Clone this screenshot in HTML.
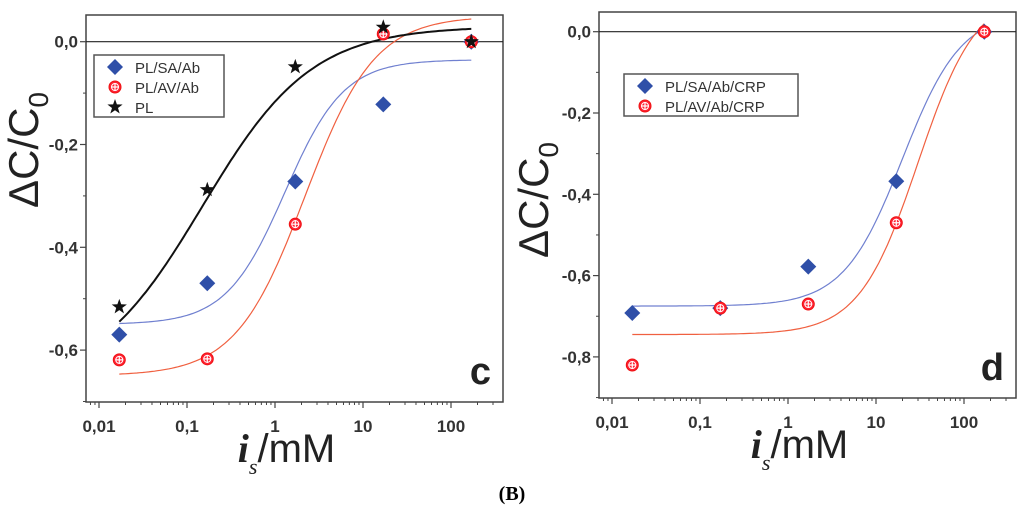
<!DOCTYPE html>
<html><head><meta charset="utf-8"><style>
body{margin:0;background:#fff;width:1024px;height:517px;overflow:hidden}
svg text{font-family:"Liberation Sans",Arial,sans-serif}
</style></head><body>
<svg id="s" width="1024" height="517" viewBox="0 0 1024 517" xmlns="http://www.w3.org/2000/svg">
<text x="512" y="500" text-anchor="middle" font-family="Liberation Serif" font-weight="bold" font-size="20" style="font-family:'Liberation Serif',serif">(B)</text>
</svg>
<script>
const xTicks=[0.01,0.1,1,10,100];
const xTickLabels=["0,01","0,1","1","10","100"];
const concC=[0.017,0.17,1.7,17,170];
const cSA=[-0.57,-0.47,-0.272,-0.122,0.0];
const cAV=[-0.619,-0.617,-0.355,0.015,0.0];
const cPL=[-0.516,-0.288,-0.049,0.028,0.0];
const cTicks=[0,-0.2,-0.4,-0.6];
const cTickLabels=["0,0","-0,2","-0,4","-0,6"];
const fitC_SA=[-0.55,-0.035,1.3,1.3];
const fitC_AV=[-0.65,0.05,2.2,1.1];
const fitC_PL=[-0.67,0.03,0.15,0.7];
const concD=[0.017,0.17,1.7,17,170];
const dSA=[-0.692,-0.68,-0.578,-0.368,0.0];
const dAV=[-0.82,-0.68,-0.67,-0.47,0.0];
const dTicks=[0,-0.2,-0.4,-0.6,-0.8];
const dTickLabels=["0,0","-0,2","-0,4","-0,6","-0,8"];
const fitD_SA=[-0.675,0.05,20,1.3];
const fitD_AV=[-0.745,0.1,30,1.3];

const NS="http://www.w3.org/2000/svg";
const svg=document.getElementById('s');
function mk(tag,attrs,parent){const e=document.createElementNS(NS,tag);for(const k in attrs)e.setAttribute(k,attrs[k]);(parent||svg).appendChild(e);return e;}
function sig(p,x){return p[1]+(p[0]-p[1])/(1+Math.pow(x/p[2],p[3]));}

function panel(o){
  const g=mk('g',{});
  
  
  const L=o.L,R=o.R,T=o.T,B=o.B;
  const dec=88;
  const X=v=>L+13+(Math.log10(v)+2)*dec;
  const Y=v=>o.y0+(-v)*o.ppu;
  const clip='clip-'+o.name;
  const cp=mk('clipPath',{id:clip},g);mk('rect',{x:L,y:T,width:R-L,height:B-T},cp);
  const fr=mk('rect',{x:L,y:T,width:R-L,height:B-T,fill:'none',stroke:'#444','stroke-width':1.5},g);
  
  const zl=mk('line',{x1:L,x2:R,y1:Y(0),y2:Y(0),stroke:'#222','stroke-width':1.2},g);
  
  xTicks.forEach((t,i)=>{
    mk('line',{x1:X(t),x2:X(t),y1:B,y2:B+6,stroke:'#444','stroke-width':1.2},g);
    const tx=mk('text',{x:X(t),y:B+30,'text-anchor':'middle','font-size':17,'font-weight':'bold',fill:'#333'},g);
    tx.textContent=xTickLabels[i];
    
    for(let m=2;m<10;m++){const v=t*m;const xx=X(v);if(xx<R)mk('line',{x1:xx,x2:xx,y1:B,y2:B+3,stroke:'#444','stroke-width':1},g);}
  });
  for(let m=8;m<10;m++){const xx=X(0.001*m);if(xx>L)mk('line',{x1:xx,x2:xx,y1:B,y2:B+3,stroke:'#444'},g);}
  o.ticks.forEach((t,i)=>{
    mk('line',{x1:L-6,x2:L,y1:Y(t),y2:Y(t),stroke:'#444','stroke-width':1.2},g);
    mk('line',{x1:L-3,x2:L,y1:Y(t-0.1),y2:Y(t-0.1),stroke:'#444'},g);
    const ty=mk('text',{x:L-8,y:Y(t)+6,'text-anchor':'end','font-size':17,'font-weight':'bold',fill:'#333'},g);
    ty.textContent=o.tickLabels[i];
    
  });
  const yt=mk('text',{transform:`translate(${o.ytx},${o.yty}) rotate(-90)`,'text-anchor':'middle','font-size':42,fill:'#222'},g);
  yt.innerHTML='ΔC/C<tspan font-size="28" dy="10">0</tspan>';
  
  const xt=mk('text',{x:(L+R)/2-8,y:B+60,'text-anchor':'middle','font-size':40,fill:'#222'},g);
  xt.innerHTML='<tspan font-family="Liberation Serif" font-style="italic" font-weight="bold">i</tspan><tspan font-family="Liberation Serif" font-style="italic" font-size="22" dy="12">s</tspan><tspan dy="-12">/mM</tspan>';
  
  const pl=mk('text',{x:R-12,y:B-18,'text-anchor':'end','font-size':38,'font-weight':'bold',fill:'#222'},g);
  pl.textContent=o.letter;
  const cg=mk('g',{'clip-path':`url(#${clip})`},g);
  o.series.forEach(s=>{
    let d='';const n=120;const a=Math.log10(o.conc[0]),b=Math.log10(o.conc[o.conc.length-1]);
    for(let i=0;i<=n;i++){const v=Math.pow(10,a+(b-a)*i/n);d+=(i?'L':'M')+X(v).toFixed(1)+','+Y(sig(s.fit,v)).toFixed(1);}
    const c=mk('path',{d:d,fill:'none',stroke:s.lc,'stroke-width':s.lw},cg);
    
  });
  o.series.forEach(s=>{
    s.vals.forEach((v,i)=>{
      const m=marker(s.type,X(o.conc[i]),Y(v),cg);
      
    });
  });
  const lg=mk('g',{},g);
  mk('rect',{x:o.lx,y:o.ly,width:o.lw,height:o.series.length*20+2,fill:'#fff',stroke:'#555','stroke-width':1.5},lg);
  o.series.forEach((s,i)=>{
    const e=mk('g',{},lg);
    marker(s.type,o.lx+21,o.ly+12+i*20,e);
    const t=mk('text',{x:o.lx+41,y:o.ly+18+i*20,'font-size':15,fill:'#333'},e);t.textContent=s.label;
  });
}
function marker(type,x,y,p){
  if(type==='d'){return mk('path',{d:`M${x},${y-8}L${x+8},${y}L${x},${y+8}L${x-8},${y}Z`,fill:'#2f4fa8'},p);}
  if(type==='c'){const g=mk('g',{},p);mk('circle',{cx:x,cy:y,r:6,fill:'#f23',stroke:'#e11','stroke-width':1},g);
    mk('path',{d:`M${x-4},${y}H${x+4}M${x},${y-4}V${y+4}`,stroke:'#fff','stroke-width':1.2},g);mk('circle',{cx:x,cy:y,r:3.5,fill:'none',stroke:'#fff','stroke-width':1},g);return g;}
  let d='';for(let i=0;i<10;i++){const r=i%2?3.2:8;const a=-Math.PI/2+i*Math.PI/5;d+=(i?'L':'M')+(x+r*Math.cos(a)).toFixed(1)+','+(y+r*Math.sin(a)).toFixed(1);}
  return mk('path',{d:d+'Z',fill:'#111'},p);
}
panel({name:'panel-c',L:86,R:503,T:15,B:402,y0:41.7,ppu:514,conc:concC,ticks:cTicks,tickLabels:cTickLabels,ytx:38,yty:150,letter:'c',
  lx:94,ly:55,lw:130,
  series:[{key:'pl-sa-ab',label:'PL/SA/Ab',type:'d',vals:cSA,fit:fitC_SA,lc:'#7080d0',lw:1.2},
          {key:'pl-av-ab',label:'PL/AV/Ab',type:'c',vals:cAV,fit:fitC_AV,lc:'#f06040',lw:1.2},
          {key:'pl',label:'PL',type:'s',vals:cPL,fit:fitC_PL,lc:'#111',lw:2}]});
panel({name:'panel-d',L:599,R:1016,T:12,B:398,y0:31.7,ppu:406.5,conc:concD,ticks:dTicks,tickLabels:dTickLabels,ytx:548,yty:200,letter:'d',
  lx:624,ly:74,lw:174,
  series:[{key:'pl-sa-ab-crp',label:'PL/SA/Ab/CRP',type:'d',vals:dSA,fit:fitD_SA,lc:'#7080d0',lw:1.2},
          {key:'pl-av-ab-crp',label:'PL/AV/Ab/CRP',type:'c',vals:dAV,fit:fitD_AV,lc:'#f06040',lw:1.2}]});
</script>
</body></html>
